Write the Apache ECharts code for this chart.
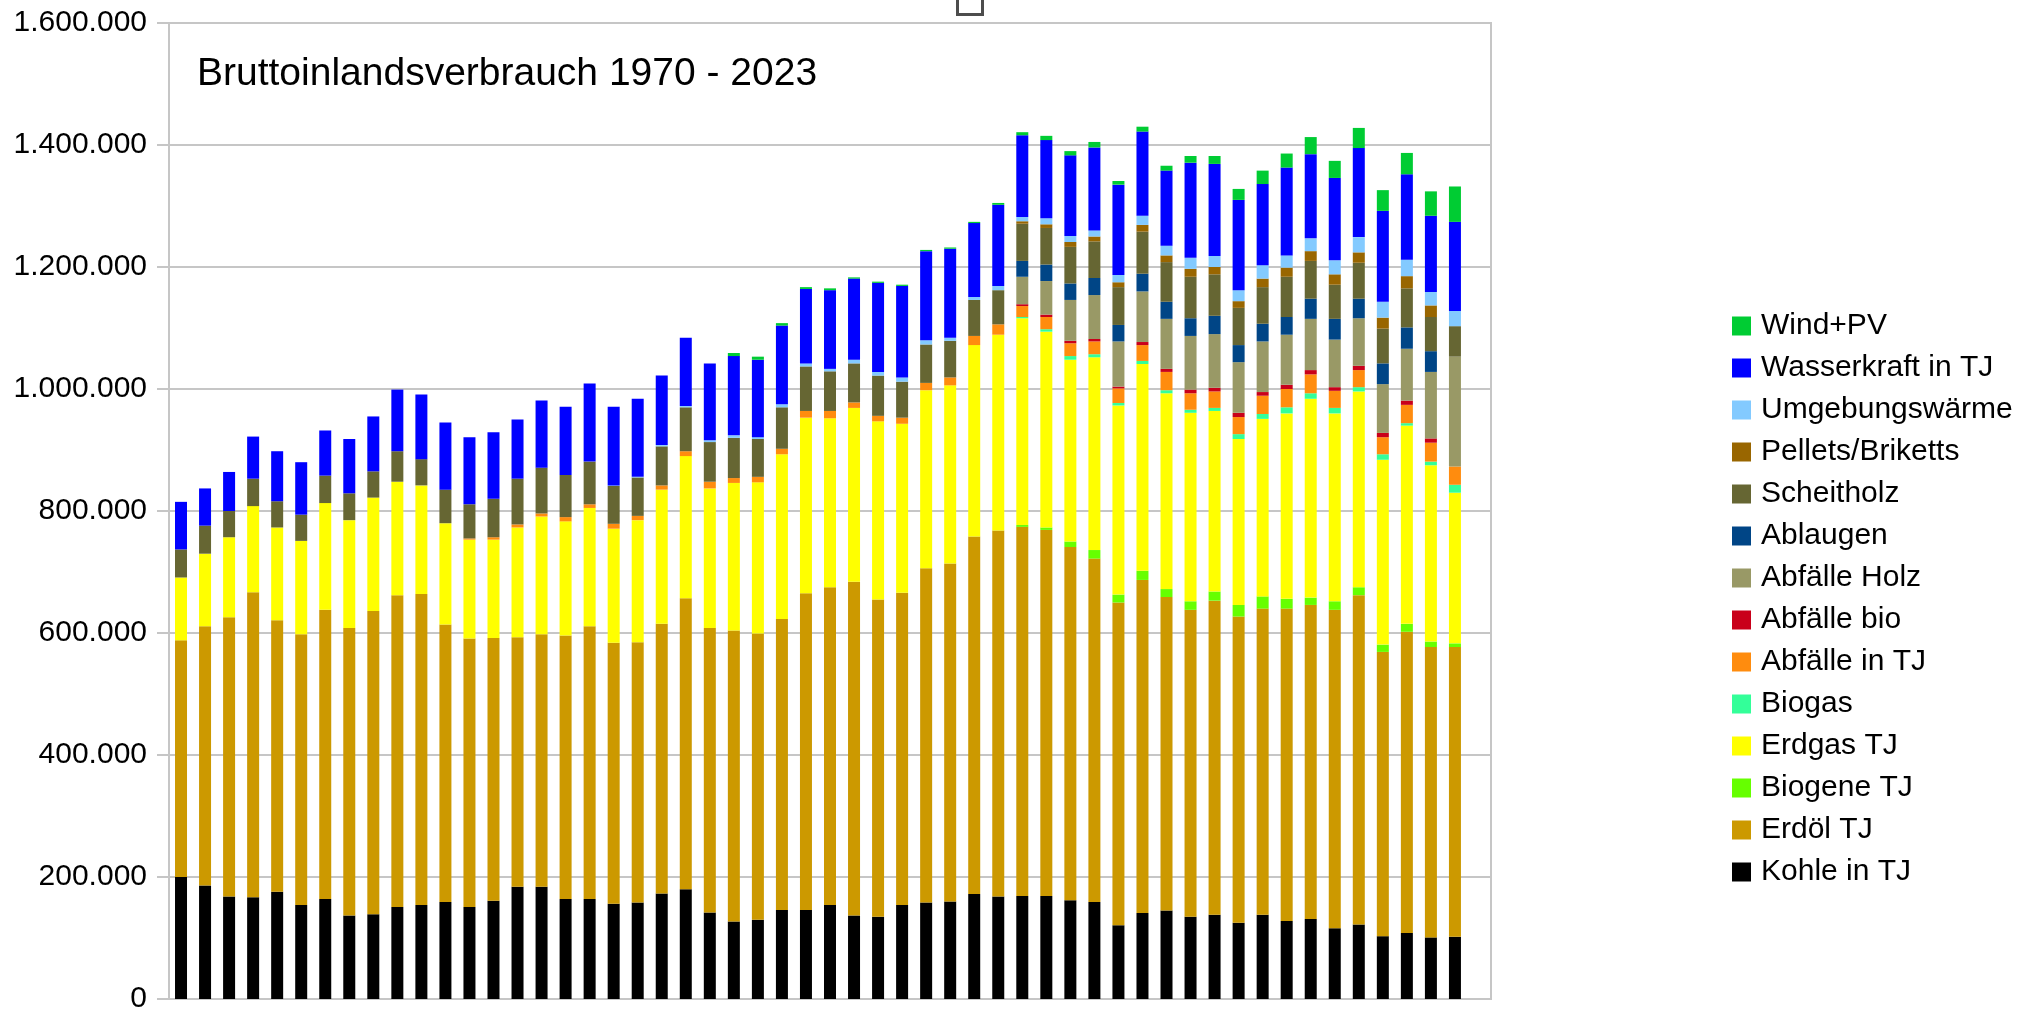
<!DOCTYPE html>
<html>
<head>
<meta charset="utf-8">
<title>Bruttoinlandsverbrauch 1970 - 2023</title>
<script src="https://cdn.jsdelivr.net/npm/echarts@6/dist/echarts.min.js"></script>
<style>
  html, body { margin: 0; padding: 0; background: #ffffff; }
  #main { width: 2021px; height: 1014px; }
</style>
</head>
<body>
<div id="main"></div>
<script>
// Jahre 1970 - 2023, dazu ein leerer Platz am Ende (wie im Original)
const years = [];
for (let y = 1970; y <= 2024; y++) years.push(String(y));

// Werte in TJ (von unten nach oben gestapelt)
const kohle = [200000,186000,168000,167000,176000,154000,164000,137000,139000,151000,154000,159000,151000,161000,184000,184000,164000,164000,156000,158000,173000,180000,142000,127000,130000,146000,146000,154000,137000,135000,154000,158000,160000,172000,168000,169000,169000,162000,159000,121000,141000,145000,135000,138000,125000,138000,128000,131000,116000,122000,103000,108000,101000,102000];
const erdoel = [388000,425000,458000,500000,445000,444000,474000,471000,497000,511000,510000,455000,440000,431000,409000,414000,432000,447000,428000,427000,442000,477000,466000,477000,469000,477000,519000,521000,547000,520000,512000,548000,554000,586000,600000,605000,600000,579000,563000,529000,546000,514000,503000,515000,502000,502000,512000,515000,522000,540000,466000,494000,476000,475000];
const biogene = [0,0,0,0,0,0,0,0,0,0,0,0,0,0,0,0,0,0,0,0,0,0,0,0,0,0,0,0,0,0,0,0,0,0,0,3000,4000,9000,14000,13000,15000,13000,14000,15000,19000,20000,16000,12000,14000,13000,12000,13000,9000,6000];
const erdgas = [103000,119000,131000,141000,152000,153000,175000,177000,186000,186000,178000,166000,162000,161000,180000,193000,187000,194000,187000,200000,220000,233000,229000,242000,248000,270000,288000,277000,285000,292000,277000,292000,292000,314000,321000,339000,321000,298000,316000,310000,339000,321000,309000,296000,272000,291000,304000,326000,308000,321000,303000,325000,289000,247000];
const biogas = [0,0,0,0,0,0,0,0,0,0,0,0,0,0,0,0,0,0,0,0,0,0,0,0,0,0,0,0,0,0,0,0,0,0,0,2000,4000,6000,5000,4000,5000,5000,5000,5000,8000,8000,10000,9000,9000,7000,9000,4000,6000,13000];
const abfaelle = [0,0,0,0,0,0,0,0,0,0,0,0,2000,4000,5000,5000,7000,6000,8000,7000,7000,8000,11000,8000,9000,9000,11000,12000,9000,9000,10000,12000,13000,15000,17000,18000,20000,21000,21000,24000,26000,30000,27000,27000,28000,30000,30000,31000,28000,28000,28000,30000,31000,30000];
const abfaelleBio = [0,0,0,0,0,0,0,0,0,0,0,0,0,0,0,0,0,0,0,0,0,0,0,0,0,0,0,0,0,0,0,0,0,0,0,3000,4000,4000,4000,3000,5000,5000,6000,6000,7000,6000,7000,7000,6000,7000,7000,7000,7000,0];
const abfaelleHolz = [0,0,0,0,0,0,0,0,0,0,0,0,0,0,0,0,0,0,0,0,0,0,0,0,0,0,0,0,0,0,0,0,0,0,0,45000,55000,67000,72000,74000,83000,82000,88000,88000,83000,83000,82000,84000,78000,78000,80000,85000,109000,180000];
const ablaugen = [0,0,0,0,0,0,0,0,0,0,0,0,0,0,0,0,0,0,0,0,0,0,0,0,0,0,0,0,0,0,0,0,0,0,0,26000,27000,27000,28000,27000,29000,28000,29000,30000,28000,29000,29000,33000,34000,32000,34000,35000,34000,0];
const scheitholz = [46000,46000,43000,45000,43000,43000,45000,44000,43000,50000,43000,55000,56000,63000,75000,75000,69000,70000,62000,63000,64000,72000,65000,66000,62000,68000,73000,65000,64000,66000,59000,63000,60000,59000,56000,61000,60000,60000,60000,62000,69000,65000,68000,68000,61000,60000,66000,62000,56000,59000,57000,64000,56000,50000];
const pellets = [0,0,0,0,0,0,0,0,0,0,0,0,0,0,0,0,0,0,0,0,0,0,0,0,0,0,0,0,0,0,0,0,0,0,0,4000,6000,8000,8000,8000,11000,11000,13000,12000,11000,14000,15000,16000,17000,17000,18000,20000,19000,0];
const umgebung = [0,0,0,0,0,0,0,0,0,0,0,0,0,0,0,0,0,0,1000,1000,2000,2000,3000,4000,3000,5000,5000,4000,6000,6000,7000,7000,5000,5000,7000,7000,10000,10000,10000,12000,15000,16000,18000,18000,18000,22000,20000,21000,23000,25000,26000,27000,22000,25000];
const wasser = [78000,61000,64000,69000,82000,86000,74000,89000,90000,101000,106000,110000,110000,109000,97000,110000,112000,128000,129000,128000,114000,112000,126000,130000,127000,129000,122000,129000,133000,146000,150000,146000,146000,121000,133000,134000,128000,132000,136000,148000,138000,123000,156000,151000,148000,133000,144000,138000,135000,146000,149000,140000,125000,146000];
const windPv = [0,0,0,0,0,0,0,0,0,0,0,0,0,0,0,0,0,0,0,0,0,0,0,5000,5000,4000,3000,3000,2000,2000,2000,2000,2000,2000,3000,5000,7000,7000,9000,6000,8000,8000,11000,13000,18000,22000,23000,28000,28000,33000,34000,35000,40000,58000];

// Achse
const yTicks = [0, 200000, 400000, 600000, 800000, 1000000, 1200000, 1400000, 1600000];

const seriesDef = [
  { name: 'Kohle in TJ', data: kohle, color: '#000000' },
  { name: 'Erdöl TJ', data: erdoel, color: '#cc9900' },
  { name: 'Biogene TJ', data: biogene, color: '#66ff00' },
  { name: 'Erdgas TJ', data: erdgas, color: '#ffff00' },
  { name: 'Biogas', data: biogas, color: '#33ff99' },
  { name: 'Abfälle in TJ', data: abfaelle, color: '#ff8c0e' },
  { name: 'Abfälle bio', data: abfaelleBio, color: '#c9001a' },
  { name: 'Abfälle Holz', data: abfaelleHolz, color: '#999966' },
  { name: 'Ablaugen', data: ablaugen, color: '#004586' },
  { name: 'Scheitholz', data: scheitholz, color: '#666633' },
  { name: 'Pellets/Briketts', data: pellets, color: '#996600' },
  { name: 'Umgebungswärme', data: umgebung, color: '#83caff' },
  { name: 'Wasserkraft in TJ', data: wasser, color: '#0000ff' },
  { name: 'Wind+PV', data: windPv, color: '#00cc33' }
];

function fmt(v) {//Tausenderpunkt
  return String(v).replace(/\B(?=(\d{3})+(?!\d))/g, '.');
}

const FONT = 'Liberation Sans, Arial, sans-serif';
const GRIDCOL = '#c6c6c6';

const chart = echarts.init(document.getElementById('main'), null, { renderer: 'canvas' });

const option = {
  backgroundColor: '#ffffff',
  animation: false,
  textStyle: { fontFamily: FONT },
  title: {
    text: 'Bruttoinlandsverbrauch 1970 - 2023',
    left: 197,
    top: 55,
    padding: 0,
    textStyle: { fontFamily: FONT, fontSize: 39, fontWeight: 'normal', color: '#000000' }
  },
  legend: {
    orient: 'vertical',
    left: 1732,
    top: 311,
    padding: 0,
    icon: 'rect',
    itemWidth: 19,
    itemHeight: 19,
    itemGap: 12,
    data: seriesDef.map(s => s.name).reverse(),
    textStyle: { fontFamily: FONT, fontSize: 30, lineHeight: 30, color: '#000000', padding: [0, 0, 0, 5] }
  },
  grid: {
    left: 169,
    right: 530,
    top: 23,
    bottom: 9,
    show: true,
    borderColor: GRIDCOL,
    borderWidth: 2
  },
  xAxis: {
    type: 'category',
    data: years,
    axisLine: { lineStyle: { color: GRIDCOL, width: 2 } },
    axisTick: { show: false },
    axisLabel: { show: false }
  },
  yAxis: {
    type: 'value',
    min: yTicks[0],
    max: yTicks[yTicks.length - 1],
    interval: yTicks[1] - yTicks[0],
    axisLine: { show: true, lineStyle: { color: GRIDCOL, width: 2 } },
    axisTick: { show: true, length: 12, lineStyle: { color: GRIDCOL, width: 2 } },
    splitLine: { show: true, lineStyle: { color: GRIDCOL, width: 2 } },
    axisLabel: {
      margin: 22,
      fontFamily: FONT,
      fontSize: 30,
      color: '#000000',
      formatter: fmt
    }
  },
  series: seriesDef.map(s => ({
    name: s.name,
    type: 'bar',
    stack: 'total',
    barWidth: 12,
    data: s.data,
    itemStyle: { color: s.color }
  })),
  graphic: [{
    type: 'rect',
    left: 956,
    top: -10,
    shape: { width: 25, height: 23 },
    style: { fill: '#ffffff', stroke: '#4d4d4d', lineWidth: 3 }
  }]
};

chart.setOption(option);
</script>
</body>
</html>
